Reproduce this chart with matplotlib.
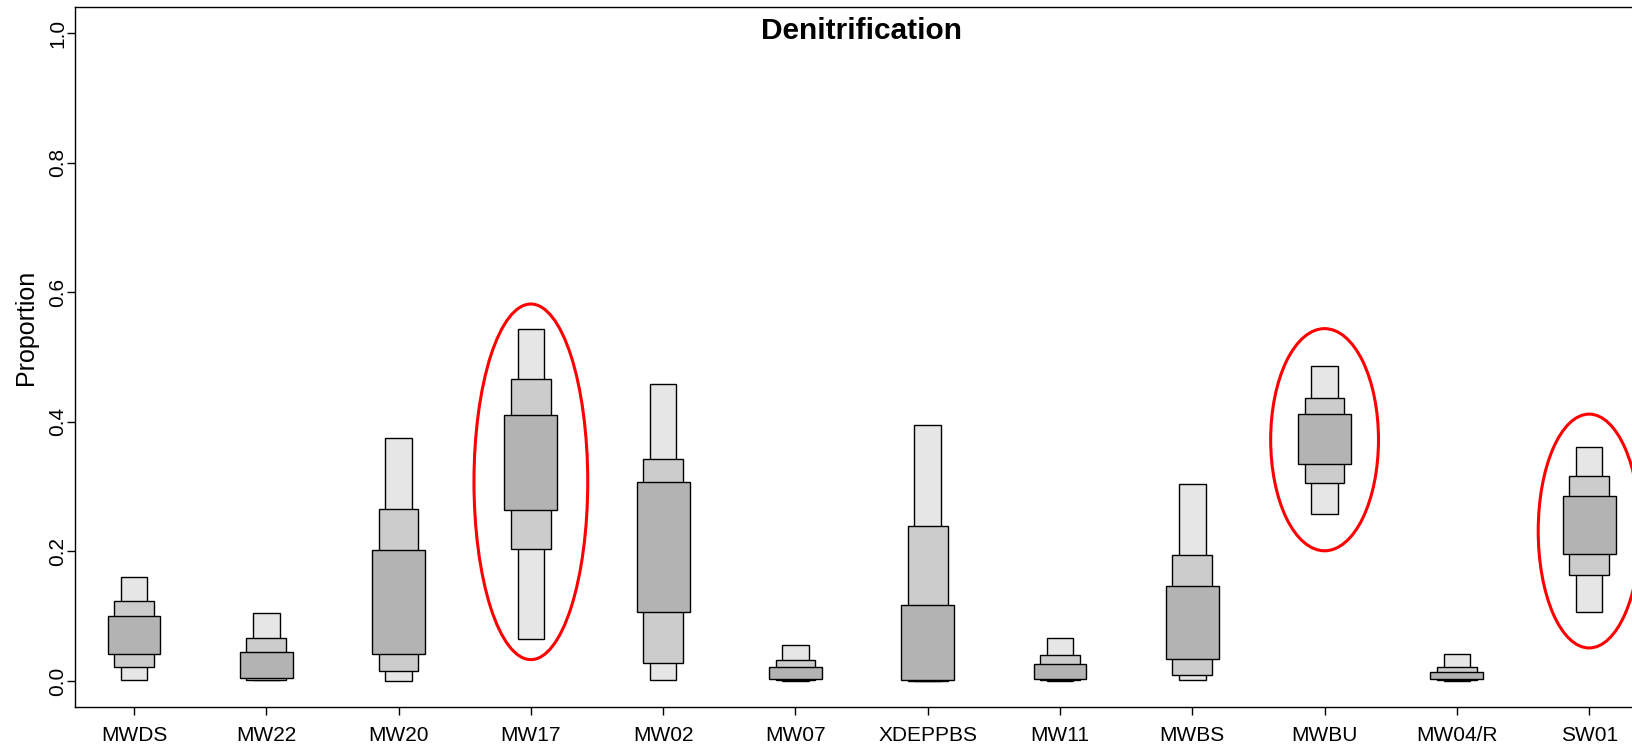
import matplotlib
matplotlib.use('Agg')
import matplotlib.pyplot as plt
from matplotlib.patches import Ellipse

plt.rcParams['font.family'] = ['Liberation Sans', 'DejaVu Sans']

sites = ['MWDS', 'MW22', 'MW20', 'MW17', 'MW02', 'MW07', 'XDEPPBS',
         'MW11', 'MWBS', 'MWBU', 'MW04/R', 'SW01']

# credible intervals of the denitrification proportion per site
ci95_lo = [0.002, 0.001, 0.000, 0.065, 0.001, 0.000, 0.000, 0.000, 0.001, 0.258, 0.000, 0.106]
ci95_hi = [0.160, 0.105, 0.375, 0.544, 0.458, 0.056, 0.395, 0.066, 0.304, 0.487, 0.042, 0.362]
ci75_lo = [0.022, 0.002, 0.015, 0.204, 0.027, 0.001, 0.000, 0.001, 0.010, 0.306, 0.001, 0.163]
ci75_hi = [0.123, 0.067, 0.266, 0.466, 0.342, 0.033, 0.240, 0.040, 0.195, 0.437, 0.022, 0.316]
ci50_lo = [0.042, 0.004, 0.042, 0.264, 0.106, 0.003, 0.001, 0.003, 0.034, 0.335, 0.003, 0.196]
ci50_hi = [0.101, 0.045, 0.202, 0.411, 0.307, 0.021, 0.118, 0.026, 0.146, 0.412, 0.014, 0.286]

# highlighted sites: (site index, centre, height, width)
hl_site = [4, 10, 12]
hl_mid = [0.3075, 0.3725, 0.2315]
hl_height = [0.549, 0.343, 0.361]
hl_width = [0.86, 0.815, 0.77]

fig = plt.figure(figsize=(16.32, 7.44), dpi=100)
ax = fig.add_axes([75 / 1632, 1 - 706.7 / 744, (1650 - 75) / 1632, 700 / 744])

x = list(range(1, len(sites) + 1))
layers = [(ci95_lo, ci95_hi, 0.2, '#e6e6e6'),
          (ci75_lo, ci75_hi, 0.3, '#cccccc'),
          (ci50_lo, ci50_hi, 0.4, '#b3b3b3')]
for lo, hi, w, col in layers:
    ax.bar(x, [h - l for l, h in zip(lo, hi)], bottom=lo, width=w,
           color=col, edgecolor='black', linewidth=1.0, zorder=2)

for s, m, h, w in zip(hl_site, hl_mid, hl_height, hl_width):
    ax.add_patch(Ellipse((s, m), w, h, fill=False, edgecolor='red',
                         linewidth=2.2, zorder=3))

ax.set_xlim(0.554, 12.46)
ax.set_ylim(-0.0397, 1.041)
ax.set_xticks(x)
ax.set_xticklabels(sites)
ax.set_yticks([0.0, 0.2, 0.4, 0.6, 0.8, 1.0])
ax.set_yticklabels(['0.0', '0.2', '0.4', '0.6', '0.8', '1.0'], rotation=90, va='center')
ax.tick_params(axis='both', labelsize=15, length=6.1, width=1.0, colors='black')
ax.tick_params(axis='x', pad=8)
ax.tick_params(axis='y', pad=-0.5)
for sp in ax.spines.values():
    sp.set_linewidth(1.0)

ax.text(6.5, 0.9907, 'Denitrification', ha='center', va='baseline',
        fontsize=21.5, fontweight='bold')
fig.text(26 / 1632, 1 - 327 / 744, 'Proportion', rotation=90,
         ha='center', va='center', fontsize=18)

fig.savefig('out.png', dpi=100)
